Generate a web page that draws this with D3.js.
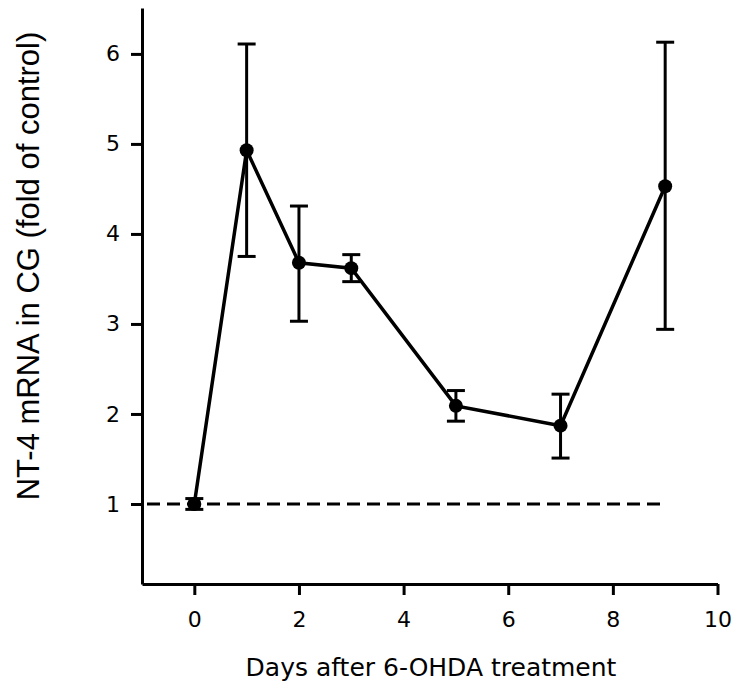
<!DOCTYPE html>
<html>
<head>
<meta charset="utf-8">
<script src="https://cdn.jsdelivr.net/npm/d3@7"></script>
<style>
  html, body { margin: 0; padding: 0; background: #fff; }
  svg { display: block; }
</style>
</head>
<body>
<svg id="chart" width="742" height="689"></svg>
<script>
// ---- data ----
const days = [0, 1, 2, 3, 5, 7, 9];
const means = [1.0, 4.93, 3.68, 3.62, 2.09, 1.87, 4.53];
const errLow = [0.94, 3.75, 3.03, 3.47, 1.92, 1.51, 2.94];
const errHigh = [1.06, 6.11, 4.31, 3.77, 2.26, 2.22, 6.13];
const xTicks = [0, 2, 4, 6, 8, 10];
const yTicks = [1, 2, 3, 4, 5, 6];
const controlLevel = 1;
const controlSpan = [-1, 9];
const xLabel = "Days after 6-OHDA treatment";
const yLabel = "NT-4 mRNA in CG (fold of control)";

const svg = d3.select("#chart");
const x = d3.scaleLinear().domain([-1, 10]).range([142, 717.5]);
const y = d3.scaleLinear().domain([0.111, 6.51]).range([584, 8]);

const tickFont = "'DejaVu Sans', Verdana, sans-serif";

// axes
const xAxis = svg.append("g").attr("transform", `translate(0,${y.range()[0]})`)
  .call(d3.axisBottom(x).tickValues(xTicks).tickFormat(d3.format("d")).tickSize(11).tickPadding(16).tickSizeOuter(0));
const yAxis = svg.append("g").attr("transform", `translate(${x.range()[0]},0)`)
  .call(d3.axisLeft(y).tickValues(yTicks).tickFormat(d3.format("d")).tickSize(11).tickPadding(11).tickSizeOuter(0));
[xAxis, yAxis].forEach(g => {
  g.select(".domain").attr("stroke", "#000").attr("stroke-width", 3);
  g.selectAll(".tick line").attr("stroke", "#000").attr("stroke-width", 3);
  g.selectAll(".tick text").attr("fill", "#000").style("font-family", tickFont).style("font-size", "22px");
});

// dashed control line
svg.append("line")
  .attr("x1", x(controlSpan[0])).attr("x2", x(controlSpan[1]))
  .attr("y1", y(controlLevel)).attr("y2", y(controlLevel))
  .attr("stroke", "#000").attr("stroke-width", 3)
  .attr("stroke-dasharray", "13,7").attr("stroke-dashoffset", -5);

// error bars
const capW = 9;
const eb = svg.append("g").attr("stroke", "#000").attr("stroke-width", 3);
days.forEach((d, i) => {
  eb.append("line").attr("x1", x(d)).attr("x2", x(d)).attr("y1", y(errLow[i])).attr("y2", y(errHigh[i]));
  eb.append("line").attr("x1", x(d) - capW).attr("x2", x(d) + capW).attr("y1", y(errLow[i])).attr("y2", y(errLow[i]));
  eb.append("line").attr("x1", x(d) - capW).attr("x2", x(d) + capW).attr("y1", y(errHigh[i])).attr("y2", y(errHigh[i]));
});

// line
const pts = days.map((d, i) => [d, means[i]]);
svg.append("path").datum(pts)
  .attr("fill", "none").attr("stroke", "#000").attr("stroke-width", 3.5)
  .attr("d", d3.line().x(p => x(p[0])).y(p => y(p[1])));

// points
svg.append("g").selectAll("circle").data(pts).join("circle")
  .attr("cx", p => x(p[0])).attr("cy", p => y(p[1])).attr("r", 7).attr("fill", "#000");

// labels
svg.append("text").attr("x", 431).attr("y", 676).attr("text-anchor", "middle")
  .style("font-family", tickFont).style("font-size", "25px").attr("fill", "#000").text(xLabel);
svg.append("text").attr("transform", "translate(39,266) rotate(-90)").attr("text-anchor", "middle")
  .style("font-family", "'Liberation Sans', Arial, sans-serif").style("font-size", "31px").attr("fill", "#000").text(yLabel);
</script>
</body>
</html>
